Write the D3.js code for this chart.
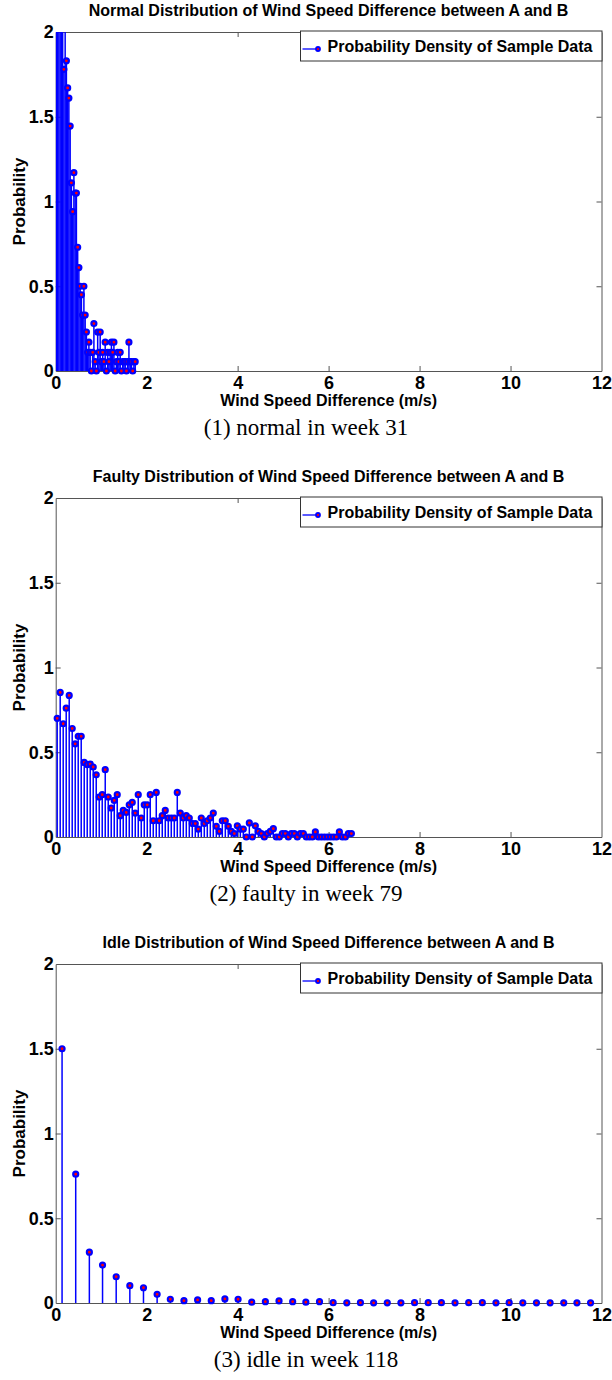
<!DOCTYPE html>
<html>
<head>
<meta charset="utf-8">
<script src="https://cdn.jsdelivr.net/npm/d3@7"></script>
<style>
  body { margin: 0; background: #fff; }
  .ttl, .tick text, .lbl, .leg { font-family: "Liberation Sans", Arial, sans-serif; font-weight: bold; fill: #000; }
  .cap { font-family: "Liberation Serif", "Times New Roman", serif; fill: #000; }
</style>
</head>
<body>
<div id="chart"></div>
<script>
// data (bin centre -> density)
const normalX = [0.015,0.043,0.070,0.098,0.125,0.153,0.180,0.208,0.235,0.263,0.290,0.318,0.345,0.373,0.400,0.428,
  0.455,0.483,0.510,0.538,0.565,0.593,0.620,0.648,0.675,0.703,0.730,0.758,0.785,0.813,0.840,0.868,
  0.895,0.923,0.950,0.978,1.005,1.033,1.060,1.088,1.115,1.143,1.170,1.198,1.225,1.253,1.280,1.308,
  1.335,1.363,1.390,1.418,1.445,1.473,1.500,1.528,1.555,1.583,1.610,1.638,1.665,1.693,1.720,1.748];
const normalY = [3.6,4.1,3.4,3.0,2.6,2.3,1.78,2.1,1.83,1.67,1.61,1.445,1.11,0.94,1.17,1.05,
  1.05,0.73,0.61,0.50,0.45,0.33,0.50,0.33,0.23,0.11,0.17,0.11,0,0.11,0.28,0.055,
  0,0.23,0.11,0.23,0.055,0.11,0.055,0.17,0,0.11,0.055,0.11,0.17,0.11,0.17,0,
  0.055,0.11,0.055,0.11,0,0.055,0.055,0.055,0,0.055,0.17,0.055,0.055,0,0.055,0.055];

const faultyX = [0.033,0.099,0.165,0.231,0.297,0.363,0.429,0.495,0.561,0.627,0.693,0.759,0.825,0.891,0.957,1.023,
  1.089,1.155,1.221,1.287,1.353,1.419,1.485,1.551,1.617,1.683,1.749,1.815,1.881,1.947,2.013,2.079,
  2.145,2.211,2.277,2.343,2.409,2.475,2.541,2.607,2.673,2.739,2.805,2.871,2.937,3.003,3.069,3.135,
  3.201,3.267,3.333,3.399,3.465,3.531,3.597,3.663,3.729,3.795,3.861,3.927,3.993,4.059,4.125,4.191,
  4.257,4.323,4.389,4.455,4.521,4.587,4.653,4.719,4.785,4.851,4.917,4.983,5.049,5.115,5.181,5.247,
  5.313,5.379,5.445,5.511,5.577,5.643,5.709,5.775,5.841,5.907,5.973,6.039,6.105,6.171,6.237,6.303,
  6.369,6.435,6.501];
const faultyY = [0.70,0.853,0.668,0.76,0.835,0.64,0.55,0.594,0.594,0.44,0.427,0.43,0.413,0.367,0.236,0.25,
  0.397,0.236,0.171,0.216,0.25,0.126,0.157,0.145,0.19,0.204,0.141,0.25,0.112,0.19,0.19,0.25,
  0.096,0.263,0.096,0.126,0.157,0.112,0.112,0.112,0.263,0.141,0.112,0.126,0.112,0.079,0.079,0.047,
  0.112,0.079,0.096,0.112,0.141,0.063,0.033,0.096,0.096,0.063,0.033,0.02,0.066,0.047,0.047,0,
  0.083,0,0.066,0.033,0.02,0,0.02,0.033,0.049,0,0,0.02,0.02,0,0.02,0.02,
  0,0.02,0.02,0,0,0,0.03,0,0,0,0,0,0,0,0.03,0,
  0,0.02,0.02];

const idleX = [0.14,0.44,0.74,1.03,1.33,1.63,1.93,2.23,2.52,2.82,3.12,3.42,3.72,4.01,4.31,4.61,4.91,5.21,5.50,5.80,
  6.10,6.40,6.70,6.99,7.29,7.59,7.89,8.19,8.48,8.78,9.08,9.38,9.68,9.97,10.27,10.57,10.87,11.17,11.46,11.76];
const idleY = [1.5,0.76,0.30,0.224,0.155,0.102,0.09,0.051,0.022,0.014,0.018,0.014,0.024,0.022,0.005,0.008,0.012,0.008,0.005,0.008,
  0.002,0.001,0.002,0.001,0.001,0.001,0.002,0.002,0.002,0.001,0.002,0.002,0.001,0.002,0.001,0.001,0.001,0.001,0.001,0.001];

const xTicks = [0, 2, 4, 6, 8, 10, 12];
const yTicks = [0, 0.5, 1, 1.5, 2];
const titles = ["Normal Distribution of Wind Speed Difference between A and B",
  "Faulty Distribution of Wind Speed Difference between A and B",
  "Idle Distribution of Wind Speed Difference between A and B"];
const captions = ["(1) normal in week 31", "(2) faulty in week 79", "(3) idle in week 118"];
const legendText = "Probability Density of Sample Data";

// layout
const width = 612, height = 1380;
const left = 55.7, right = 601.5, plotH = 339;
const tops = [32, 498, 964];

const svg = d3.select("#chart").append("svg")
    .attr("width", width)
    .attr("height", height)

const xScale = d3.scaleLinear().domain([0, 12]).range([left, right])

const panels = [
  {xs: normalX, ys: normalY},
  {xs: faultyX, ys: faultyY},
  {xs: idleX, ys: idleY}
]

panels.forEach((p, i) => {
  const top = tops[i], bottom = top + plotH
  const yScale = d3.scaleLinear().domain([0, 2]).range([bottom, top])
  const pts = p.xs.map((x, j) => ({x: x, y: p.ys[j]}))
  const g = svg.append("g")

  // clip for stems that run past the top
  g.append("clipPath").attr("id", "clip" + i)
    .append("rect").attr("x", left).attr("y", top).attr("width", right - left).attr("height", plotH)

  // axes, ticks pointing inward on all four sides
  const fmt = d => d3.format("")(d)
  g.append("g").attr("transform", `translate(0,${bottom})`)
    .call(d3.axisBottom(xScale).tickValues(xTicks).tickFormat(fmt).tickSizeInner(-5).tickSizeOuter(0).tickPadding(5))
  g.append("g").attr("transform", `translate(0,${top})`)
    .call(d3.axisTop(xScale).tickValues(xTicks).tickFormat("").tickSizeInner(-5).tickSizeOuter(0))
  g.append("g").attr("transform", `translate(${left},0)`)
    .call(d3.axisLeft(yScale).tickValues(yTicks).tickFormat(fmt).tickSizeInner(-5).tickSizeOuter(0).tickPadding(2))
  g.append("g").attr("transform", `translate(${right},0)`)
    .call(d3.axisRight(yScale).tickValues(yTicks).tickFormat("").tickSizeInner(-5).tickSizeOuter(0))
  g.selectAll(".domain, .tick line").attr("stroke", "#555")
  g.selectAll(".tick text").attr("font-size", 18)
  // no ticks at the corners
  g.selectAll(".tick").filter(d => d === 0 || d === 12 || d === 2).select("line").remove()

  // stems
  g.append("g").attr("clip-path", `url(#clip${i})`)
    .selectAll("line")
    .data(pts.filter(d => d.y > 0))
    .join("line")
    .attr("x1", d => xScale(d.x)).attr("x2", d => xScale(d.x))
    .attr("y1", yScale(0)).attr("y2", d => yScale(d.y))
    .attr("stroke", "#0000ff")
    .attr("stroke-width", 1.5)

  // markers (MATLAB hides the ones above the axis)
  g.append("g").selectAll("circle")
    .data(pts.filter(d => d.y <= 2))
    .join("circle")
    .attr("cx", d => xScale(d.x))
    .attr("cy", d => yScale(d.y))
    .attr("r", 2.5)
    .attr("fill", "#ff0000")
    .attr("stroke", "#0000ff")
    .attr("stroke-width", 2.2)

  // title + axis labels
  g.append("text").attr("class", "ttl")
    .attr("x", (left + right) / 2).attr("y", top - 16)
    .attr("text-anchor", "middle").attr("font-size", 16)
    .text(titles[i])
  g.append("text").attr("class", "lbl")
    .attr("x", (left + right) / 2).attr("y", bottom + 35)
    .attr("text-anchor", "middle").attr("font-size", 16)
    .text("Wind Speed Difference (m/s)")
  g.append("text").attr("class", "lbl")
    .attr("transform", `translate(25,${top + plotH / 2}) rotate(-90)`)
    .attr("text-anchor", "middle").attr("font-size", 17)
    .text("Probability")

  // legend
  const lg = g.append("g").attr("transform", `translate(300.5,${top - 1})`)
  lg.append("rect").attr("width", 301.5).attr("height", 30)
    .attr("fill", "#fff").attr("stroke", "#333").attr("stroke-width", 1)
  lg.append("line").attr("x1", 2).attr("x2", 17).attr("y1", 18).attr("y2", 18)
    .attr("stroke", "#0000ff").attr("stroke-width", 1.3)
  lg.append("circle").attr("cx", 17.5).attr("cy", 18).attr("r", 2)
    .attr("fill", "#ff0000").attr("stroke", "#0000ff").attr("stroke-width", 1.8)
  lg.append("text").attr("class", "leg")
    .attr("x", 27).attr("y", 20.5).attr("font-size", 16)
    .text(legendText)

  // caption under each panel
  g.append("text").attr("class", "cap")
    .attr("x", 306).attr("y", bottom + 64)
    .attr("text-anchor", "middle").attr("font-size", 23)
    .text(captions[i])
})
</script>
</body>
</html>
